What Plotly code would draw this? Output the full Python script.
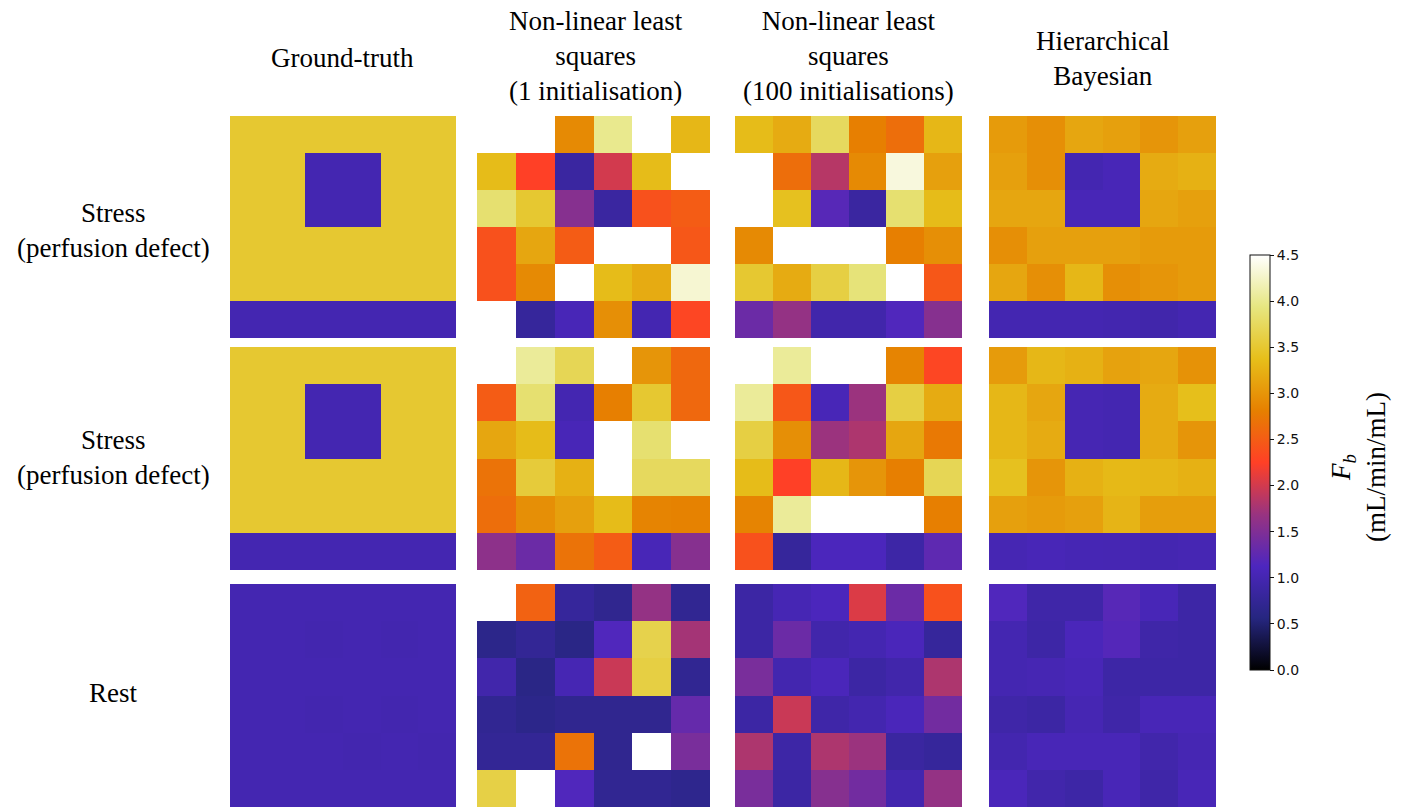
import plotly.graph_objects as go

N = None  # cells shown blank (no converged value)

# ---------- data: blood flow maps F_b (mL/min/mL), 6x6 each, row 0 at top ----------
gt_stress = [
    [3.5, 3.5, 3.5, 3.5, 3.5, 3.5],
    [3.5, 3.5, 1.0, 1.0, 3.5, 3.5],
    [3.5, 3.5, 1.0, 1.0, 3.5, 3.5],
    [3.5, 3.5, 3.5, 3.5, 3.5, 3.5],
    [3.5, 3.5, 3.5, 3.5, 3.5, 3.5],
    [1.0, 1.0, 1.0, 1.0, 1.0, 1.0],
]
gt_rest = [
    [1.0, 1.0, 1.0, 1.0, 1.0, 1.0],
    [1.0, 1.0, 0.98, 1.0, 0.98, 1.0],
    [1.0, 1.0, 1.0, 1.0, 1.0, 1.0],
    [1.0, 1.0, 0.98, 1.0, 0.98, 1.0],
    [1.0, 1.0, 1.0, 0.98, 1.0, 0.98],
    [1.0, 1.0, 1.0, 1.0, 1.0, 1.0],
]

nlls1_stress_a = [
    [N, N, 2.9, 4.0, N, 3.3],
    [3.35, 2.25, 0.85, 2.0, 3.35, N],
    [3.85, 3.5, 1.55, 0.85, 2.4, 2.5],
    [2.4, 3.15, 2.5, N, N, 2.45],
    [2.4, 2.9, N, 3.35, 3.2, 4.3],
    [N, 0.8, 1.05, 2.95, 1.0, 2.3],
]
nlls100_stress_a = [
    [3.35, 3.2, 3.75, 2.8, 2.65, 3.3],
    [N, 2.65, 1.85, 2.9, 4.35, 3.1],
    [N, 3.4, 1.2, 0.85, 3.85, 3.35],
    [2.9, N, N, N, 2.8, 2.95],
    [3.5, 3.2, 3.6, 3.9, N, 2.45],
    [1.35, 1.65, 0.95, 0.95, 1.15, 1.55],
]
bayes_stress_a = [
    [3.05, 2.95, 3.15, 3.1, 3.0, 3.1],
    [3.1, 2.95, 1.0, 1.05, 3.2, 3.25],
    [3.15, 3.15, 1.05, 1.05, 3.15, 3.1],
    [2.95, 3.1, 3.1, 3.1, 3.05, 3.05],
    [3.15, 2.95, 3.3, 2.95, 3.0, 3.05],
    [1.0, 1.0, 1.0, 0.98, 0.95, 1.0],
]

nlls1_stress_b = [
    [N, 4.05, 3.7, N, 3.0, 2.6],
    [2.5, 3.85, 1.0, 2.8, 3.5, 2.6],
    [3.15, 3.35, 1.05, N, 3.85, N],
    [2.7, 3.55, 3.25, N, 3.75, 3.75],
    [2.65, 2.95, 3.1, 3.35, 2.85, 2.83],
    [1.6, 1.35, 2.7, 2.5, 1.05, 1.55],
]
nlls100_stress_b = [
    [N, 4.05, N, N, 2.85, 2.3],
    [4.05, 2.45, 1.05, 1.7, 3.6, 3.2],
    [3.6, 2.95, 1.7, 1.8, 3.15, 2.75],
    [3.35, 2.25, 3.3, 3.0, 2.8, 3.7],
    [2.85, 4.05, N, N, N, 2.8],
    [2.4, 0.8, 1.1, 1.1, 0.9, 1.25],
]
bayes_stress_b = [
    [3.05, 3.3, 3.25, 3.12, 3.15, 2.97],
    [3.3, 3.15, 1.02, 1.0, 3.2, 3.38],
    [3.3, 3.2, 1.02, 1.0, 3.2, 3.0],
    [3.4, 3.0, 3.25, 3.32, 3.3, 3.25],
    [3.1, 3.05, 3.1, 3.28, 3.08, 3.08],
    [1.02, 1.05, 1.03, 1.02, 1.0, 1.02],
]

nlls1_rest = [
    [N, 2.55, 0.8, 0.7, 1.65, 0.72],
    [0.65, 0.75, 0.62, 1.15, 3.65, 1.75],
    [0.95, 0.62, 1.02, 1.95, 3.6, 0.72],
    [0.72, 0.65, 0.7, 0.7, 0.7, 1.3],
    [0.75, 0.75, 2.7, 0.7, N, 1.45],
    [3.62, N, 1.15, 0.72, 0.72, 0.68],
]
nlls100_rest = [
    [0.88, 1.03, 1.1, 2.05, 1.35, 2.4],
    [0.88, 1.35, 0.95, 1.0, 1.08, 0.8],
    [1.45, 0.98, 1.08, 0.88, 0.95, 1.8],
    [0.88, 1.95, 0.92, 0.98, 1.08, 1.4],
    [1.8, 0.9, 1.8, 1.7, 0.85, 0.8],
    [1.45, 0.88, 1.55, 1.4, 0.98, 1.65],
]
bayes_rest = [
    [1.15, 0.92, 0.92, 1.2, 1.05, 0.9],
    [1.0, 0.9, 1.08, 1.18, 0.92, 0.9],
    [1.0, 1.02, 1.05, 0.9, 0.9, 0.9],
    [0.92, 0.88, 1.02, 0.92, 1.05, 1.05],
    [0.98, 1.05, 1.05, 1.05, 0.95, 1.02],
    [1.08, 0.95, 0.9, 1.05, 0.92, 1.05],
]

col_titles = ["Ground-truth", "Non-linear least<br>squares<br>(1 initialisation)",
              "Non-linear least<br>squares<br>(100 initialisations)", "Hierarchical<br>Bayesian"]
row_titles = ["Stress<br>(perfusion defect)", "Stress<br>(perfusion defect)", "Rest"]
cbar_ticks = [0.0, 0.5, 1.0, 1.5, 2.0, 2.5, 3.0, 3.5, 4.0, 4.5]

grid = [
    [gt_stress, nlls1_stress_a, nlls100_stress_a, bayes_stress_a],
    [gt_stress, nlls1_stress_b, nlls100_stress_b, bayes_stress_b],
    [gt_rest, nlls1_rest, nlls100_rest, bayes_rest],
]

# CMRmap colour scale
cmrmap = [
    [0.000, "rgb(0,0,0)"],
    [0.125, "rgb(38,38,128)"],
    [0.250, "rgb(77,38,191)"],
    [0.375, "rgb(153,51,128)"],
    [0.500, "rgb(255,64,38)"],
    [0.625, "rgb(230,128,0)"],
    [0.750, "rgb(230,191,26)"],
    [0.875, "rgb(230,230,128)"],
    [1.000, "rgb(255,255,255)"],
]

W, H = 1403, 807
col_px = [(230, 456), (477, 710), (735, 962), (989, 1216)]
row_px = [(116, 338), (347, 570), (584, 807)]

fig = go.Figure()
layout = {}
k = 0
for r, row in enumerate(grid):
    for c, z in enumerate(row):
        k += 1
        sfx = "" if k == 1 else str(k)
        fig.add_trace(go.Heatmap(z=z, coloraxis="coloraxis", xaxis="x" + sfx, yaxis="y" + sfx,
                                 hoverongaps=False))
        x0, x1 = col_px[c]
        y0, y1 = row_px[r]
        layout["xaxis" + sfx] = dict(domain=[x0 / W, x1 / W], visible=False, range=[-0.5, 5.5],
                                     anchor="y" + sfx, fixedrange=True)
        layout["yaxis" + sfx] = dict(domain=[1 - y1 / H, 1 - y0 / H], visible=False,
                                     range=[5.5, -0.5], anchor="x" + sfx, fixedrange=True)

fig.update_layout(**layout)

serif = "Liberation Serif, Times New Roman, serif"
ann = []
col_centers = [342, 596, 848, 1102]
col_title_y = [58, 56, 56, 59]
for t, xc, yc in zip(col_titles, col_centers, col_title_y):
    ann.append(dict(text=t, x=xc / W, y=1 - yc / H, xref="paper", yref="paper",
                    xanchor="center", yanchor="middle", showarrow=False,
                    font=dict(family=serif, size=27, color="black")))
row_centers = [230, 457, 693]
for t, yc in zip(row_titles, row_centers):
    ann.append(dict(text=t, x=113 / W, y=1 - yc / H, xref="paper", yref="paper",
                    xanchor="center", yanchor="middle", showarrow=False,
                    font=dict(family=serif, size=27, color="black")))
ann.append(dict(text="<i>F<sub>b</sub></i><br>(mL/min/mL)", x=1358 / W, y=1 - 467 / H,
                xref="paper", yref="paper", xanchor="center", yanchor="middle",
                textangle=-90, showarrow=False,
                font=dict(family=serif, size=27, color="black")))

fig.update_layout(
    width=W, height=H,
    margin=dict(l=0, r=0, t=0, b=0),
    paper_bgcolor="white", plot_bgcolor="white",
    annotations=ann,
    coloraxis=dict(
        colorscale=cmrmap, cmin=0, cmax=4.5,
        colorbar=dict(
            x=1250 / W, xanchor="left", xref="paper", xpad=0,
            y=1 - 462.5 / H, yanchor="middle", yref="paper", ypad=0,
            len=415 / H, lenmode="fraction", thickness=20,
            outlinewidth=1, outlinecolor="#111",
            tickvals=cbar_ticks, tickformat=".1f",
            ticks="outside", ticklen=4, tickcolor="#111",
            tickfont=dict(family="DejaVu Sans", size=14, color="#111"),
        ),
    ),
)

fig.write_html("out.html")
